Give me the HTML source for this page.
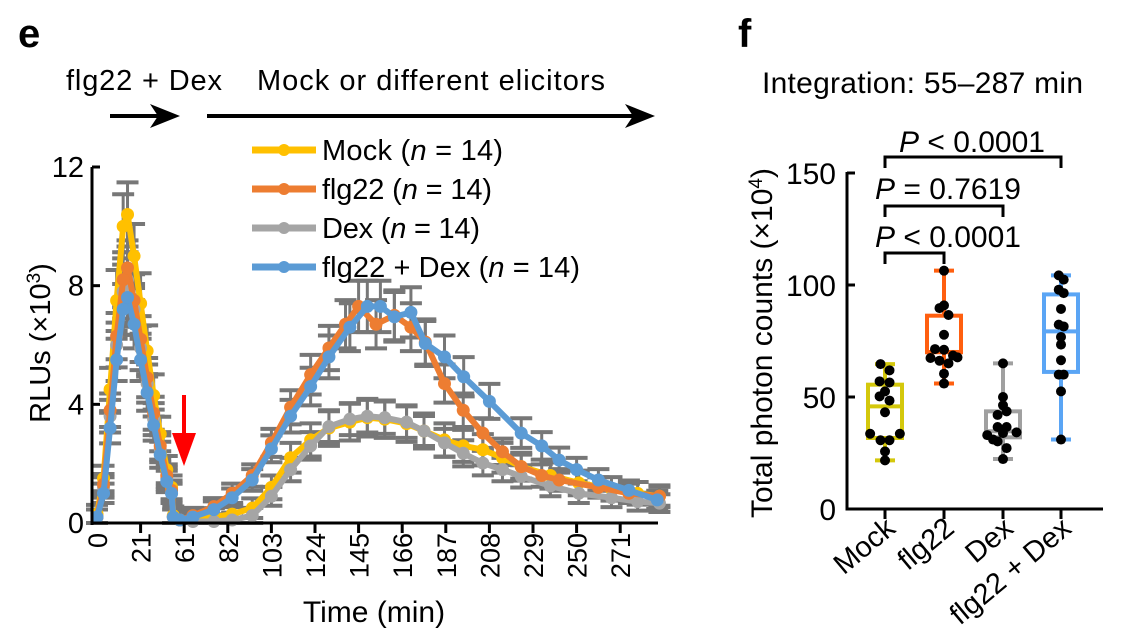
<!DOCTYPE html>
<html><head><meta charset="utf-8"><style>
body{margin:0;background:#fff;}
svg{display:block;font-family:"Liberation Sans",Arial,sans-serif;}
</style></head><body>
<svg id="fig" width="1124" height="641" viewBox="0 0 1124 641">
<text x="18" y="47" font-size="40" font-weight="bold">e</text>
<text x="738" y="47" font-size="40" font-weight="bold">f</text>
<text x="66" y="90" font-size="29" textLength="156">flg22 + Dex</text>
<text x="257" y="90" font-size="29" textLength="348">Mock or different elicitors</text>
<g><line x1="110" y1="116" x2="168" y2="116" stroke="#000" stroke-width="4"/><polygon points="180,116 150,104 158,116 150,128" fill="#000"/></g>
<g><line x1="207" y1="116" x2="640" y2="116" stroke="#000" stroke-width="4"/><polygon points="655,116 625,104 633,116 625,128" fill="#000"/></g>
<g id="left"></g>
<g id="right"></g>
<text x="762" y="93" font-size="30" textLength="321">Integration: 55–287 min</text>
</svg>
<script>
// ---------- Panel e data (x in tick units; values ×10^3 RLU) ----------
const xTickLabels = ["0","21","61","82","103","124","145","166","187","208","229","250","271"];
const yTickLabels = [0,4,8,12];
const seriesNames = ["Mock","flg22","Dex","flg22 + Dex"];
const seriesColors = ["#ffc000","#ed7d31","#a5a5a5","#5b9bd5"];
const tMock  = [0,0.15,0.3,0.45,0.6,0.7,0.85,1.0,1.15,1.3,1.45,1.6,1.71,1.75,1.9,2.2,2.68,3.1,3.56,4.0,4.44,4.9,5.32,5.8,6.2,6.6,7.1,7.5,7.97,8.4,8.85,9.3,9.73,10.4,11.05,11.8,12.4,12.9];
const vMock  = [0.3,1.5,4.5,7.5,10.0,10.4,9.0,7.4,5.8,4.3,3.0,1.8,1.2,0.25,0.1,0.15,0.2,0.3,0.5,1.2,2.2,2.8,3.2,3.4,3.55,3.5,3.35,3.1,2.8,2.6,2.47,2.2,1.9,1.6,1.35,1.15,1.0,0.9];
const tFlg   = [0,0.15,0.3,0.45,0.6,0.7,0.85,1.0,1.15,1.3,1.45,1.6,1.71,1.75,1.9,2.2,2.68,3.1,3.56,4.0,4.44,4.9,5.32,5.7,6.0,6.4,6.82,7.2,7.53,7.97,8.4,8.85,9.3,9.73,10.2,10.6,11.5,12.2,12.9];
const vFlg   = [0.2,1.3,3.8,6.3,8.2,8.6,7.5,6.2,4.9,3.7,2.6,1.6,1.1,0.2,0.1,0.25,0.55,1.0,1.6,2.7,3.9,5.0,5.9,6.7,7.3,6.7,7.0,6.6,6.1,4.7,3.8,3.03,2.4,1.9,1.6,1.45,1.2,1.0,0.9];
const tDex   = [0,0.15,0.3,0.45,0.6,0.7,0.85,1.0,1.15,1.3,1.45,1.6,1.71,1.75,1.9,2.2,2.68,3.1,3.56,4.0,4.44,4.9,5.32,5.8,6.2,6.6,7.1,7.5,7.97,8.4,8.85,9.3,9.73,10.4,11.05,11.8,12.4,12.9];
const vDex   = [0.2,1.2,3.6,6.0,7.8,8.2,7.2,5.9,4.7,3.5,2.5,1.5,1.0,0.2,0.1,0.05,0.05,0.1,0.25,0.9,1.8,2.6,3.25,3.5,3.6,3.55,3.4,3.1,2.7,2.35,2.02,1.8,1.57,1.25,1.0,0.85,0.72,0.67];
const tBlue  = [0,0.15,0.3,0.45,0.6,0.7,0.85,1.0,1.15,1.3,1.45,1.6,1.71,1.75,1.9,2.2,2.68,3.1,3.56,4.0,4.44,4.9,5.32,5.8,6.2,6.5,6.82,7.2,7.53,7.97,8.41,9.0,9.73,10.2,10.6,11.0,11.5,12.2,12.85];
const vBlue  = [0.2,1.0,3.2,5.5,7.2,7.6,6.7,5.5,4.4,3.3,2.3,1.4,1.0,0.2,0.1,0.2,0.45,0.85,1.45,2.5,3.6,4.6,5.6,6.6,7.3,7.3,6.95,7.1,6.05,5.6,4.93,4.1,3.03,2.6,2.12,1.8,1.45,1.1,0.78];
const errMock = 0.7, errFlg = 0.6, errDex = 0.6, errBlue = 0.6;

// ---------- Panel f data (×10^4 photon counts) ----------
const boxCats = ["Mock","flg22","Dex","flg22 + Dex"];
const boxColors = ["#d4c80c","#ff5f0f","#a0a0a0","#5aa5f5"];
const boxWhiskLo = [21.7,56,22.3,31];
const boxQ1 = [31.7,70.1,32,61.2];
const boxMed = [45.8,70,34.7,79.3];
const boxQ3 = [55.5,86.3,43.6,95.8];
const boxWhiskHi = [64.7,106.4,65,104.3];
const dotsMock = [64.7,61.9,57,56.5,52.5,50.3,48.4,43.2,33.6,33.6,30.7,30.7,25.7,21.7];
const dotsFlg = [106.4,89.7,90.9,86.6,77.8,71.4,71.1,67.4,66.2,65,68.5,67.7,60.4,56];
const dotsDex = [65,50,46.3,42,43.6,36.6,36.6,33,31,33.9,34.2,30.2,27.2,22.3];
const dotsBlue = [104.3,102.4,97.9,96.4,89.3,82.3,81.5,76.8,73.4,66.4,60,60,52.5,31];
const jitterMock = [-0.1,0.1,-0.12,0.1,0,-0.12,0.1,0,-0.33,0.33,-0.1,0.1,0,0];
const jitterFlg = [0,-0.1,0,0.1,0,-0.2,0,-0.3,-0.1,0.1,0.2,0.3,0,0];
const jitterDex = [0,0,0,-0.12,0.08,-0.12,0.08,-0.35,-0.22,0,0.3,-0.12,0.08,0];
const jitterBlue = [-0.05,0.06,-0.05,0.06,0,-0.05,0.06,0,0,0,-0.05,0.06,0,0];
const yTicksF = [0,50,100,150];

const NS="http://www.w3.org/2000/svg";
function mk(parent,tag,attrs,txt){const e=document.createElementNS(NS,tag);for(const k in attrs)e.setAttribute(k,attrs[k]);if(txt!==undefined)e.textContent=txt;parent.appendChild(e);return e;}

// ===== Panel e =====
const L=document.getElementById('left');
const x0=97, dx=43.6, yb=523, yTop=167;
const xs=t=>x0+t*dx;
const ys=v=>yb-(v/12)*(yb-yTop);
const allT=[tMock,tFlg,tDex,tBlue], allV=[vMock,vFlg,vDex,vBlue], errs=[errMock,errFlg,errDex,errBlue];
const eg=mk(L,'g',{});


for(let s=0;s<4;s++){
  for(let i=0;i<allT[s].length;i++){
    const e=errs[s]*(0.4+Math.min(allV[s][i],8)/7);
    const x=xs(allT[s][i]), yh=ys(allV[s][i]+e), yl=ys(Math.max(0,allV[s][i]-e));
    mk(eg,'line',{x1:x,x2:x,y1:yh,y2:yl,stroke:'#777','stroke-width':3});
    mk(eg,'line',{x1:x-11,x2:x+11,y1:yh,y2:yh,stroke:'#777','stroke-width':4});
    mk(eg,'line',{x1:x-11,x2:x+11,y1:yl,y2:yl,stroke:'#777','stroke-width':4});
  }
}
const order=[0,2,1,3];
for(const s of order){
  const g=mk(L,'g',{});
  
  
  const pts=allT[s].map((t,i)=>xs(t)+','+ys(allV[s][i])).join(' ');
  mk(g,'polyline',{points:pts,fill:'none',stroke:seriesColors[s],'stroke-width':6,'stroke-linejoin':'round'});
  allT[s].forEach((t,i)=>{const c=mk(g,'circle',{cx:xs(t),cy:ys(allV[s][i]),r:6.5,fill:seriesColors[s]});
    
    });
}
const ax=mk(L,'g',{});


mk(ax,'line',{x1:92,x2:92,y1:yTop,y2:yb+2,stroke:'#000','stroke-width':3});
mk(ax,'line',{x1:91,x2:658,y1:yb,y2:yb,stroke:'#000','stroke-width':3});
yTickLabels.forEach(v=>{mk(ax,'line',{x1:92,x2:100,y1:ys(v),y2:ys(v),stroke:'#000','stroke-width':3});
  const t=mk(ax,'text',{x:84,y:ys(v)+10,'font-size':29,'text-anchor':'end'},String(v));
  
  });
xTickLabels.forEach((lab,i)=>{const x=xs(i);
  if(i>0) mk(ax,'line',{x1:x,x2:x,y1:yb,y2:yb+10,stroke:'#000','stroke-width':3});
  const t=mk(ax,'text',{x:0,y:0,'font-size':27,'text-anchor':'end',transform:`translate(${x+10},${yb+10}) rotate(-90)`},lab);
  
  });
const xt=mk(ax,'text',{x:374,y:622,'font-size':30,'text-anchor':'middle'},'Time (min)');


const yt=mk(ax,'text',{x:0,y:0,'font-size':29,'text-anchor':'middle',transform:'translate(50,343) rotate(-90)'});


yt.innerHTML='RLUs (×10<tspan dy="-10" font-size="19">3</tspan><tspan dy="10">)</tspan>';
const ra=mk(L,'g',{});


mk(ra,'line',{x1:184,x2:184,y1:395,y2:440,stroke:'#f00','stroke-width':4});
mk(ra,'polygon',{points:'172,433 196,433 184,466',fill:'#f00'});
const lg=mk(L,'g',{});


const legW=[181,170,158,258];
[150,189,228,267].forEach((y,s)=>{
  const e=mk(lg,'g',{});
  
  
  mk(e,'line',{x1:252,x2:316,y1:y,y2:y,stroke:seriesColors[s],'stroke-width':7});
  mk(e,'circle',{cx:284,cy:y,r:6,fill:seriesColors[s]});
  const t=mk(e,'text',{x:322,y:y+10,'font-size':29,textLength:legW[s]});
  t.innerHTML=seriesNames[s]+' (<tspan font-style="italic">n</tspan> = 14)';
});

// ===== Panel f =====
const R=document.getElementById('right');
const fx=[885,944,1003,1061], fy0=509, fyTop=173;
const fys=v=>fy0-(v/150)*(fy0-fyTop);
const allDots=[dotsMock,dotsFlg,dotsDex,dotsBlue], allJit=[jitterMock,jitterFlg,jitterDex,jitterBlue];
const bw=34;
boxCats.forEach((c,i)=>{
  const g=mk(R,'g',{});
  
  
  const col=boxColors[i], x=fx[i];
  mk(g,'line',{x1:x,x2:x,y1:fys(boxWhiskHi[i]),y2:fys(boxQ3[i]),stroke:col,'stroke-width':4});
  mk(g,'line',{x1:x,x2:x,y1:fys(boxQ1[i]),y2:fys(boxWhiskLo[i]),stroke:col,'stroke-width':4});
  mk(g,'line',{x1:x-10,x2:x+10,y1:fys(boxWhiskHi[i]),y2:fys(boxWhiskHi[i]),stroke:col,'stroke-width':4});
  mk(g,'line',{x1:x-10,x2:x+10,y1:fys(boxWhiskLo[i]),y2:fys(boxWhiskLo[i]),stroke:col,'stroke-width':4});
  mk(g,'rect',{x:x-bw/2,y:fys(boxQ3[i]),width:bw,height:fys(boxQ1[i])-fys(boxQ3[i]),fill:'none',stroke:col,'stroke-width':4});
  mk(g,'line',{x1:x-bw/2-2,x2:x+bw/2+2,y1:fys(boxMed[i]),y2:fys(boxMed[i]),stroke:col,'stroke-width':4});
  allDots[i].forEach((v,j)=>{const d=mk(g,'circle',{cx:x+allJit[i][j]*45,cy:fys(v),r:5,fill:'#000'});
    
    });
});
const fa=mk(R,'g',{});


mk(fa,'line',{x1:847,x2:847,y1:fyTop-1,y2:fy0+1.5,stroke:'#000','stroke-width':3});
mk(fa,'line',{x1:845.5,x2:1103,y1:fy0,y2:fy0,stroke:'#000','stroke-width':3});
yTicksF.forEach(v=>{mk(fa,'line',{x1:847,x2:855,y1:fys(v),y2:fys(v),stroke:'#000','stroke-width':3});
  const t=mk(fa,'text',{x:836,y:fys(v)+11,'font-size':30,'text-anchor':'end'},String(v));
  
  });
boxCats.forEach((c,i)=>{mk(fa,'line',{x1:fx[i],x2:fx[i],y1:fy0,y2:fy0+10,stroke:'#000','stroke-width':3});
  const t=mk(fa,'text',{x:0,y:0,'font-size':29,'text-anchor':'end',transform:`translate(${fx[i]+12},${fy0+22}) rotate(-40)`},c);
  
  });
const fyt=mk(fa,'text',{x:0,y:0,'font-size':30,'text-anchor':'middle',transform:'translate(772,343) rotate(-90)'});


fyt.innerHTML='Total photon counts (×10<tspan dy="-10" font-size="19">4</tspan><tspan dy="10">)</tspan>';
const brackets=[[0,3,157,145,'<','0.0001',972,152],[0,2,206,217,'=','0.7619',948,199],[0,1,253,264,'<','0.0001',948,247]];
brackets.forEach(b=>{
  const g=mk(R,'g',{});
  
  
  const xa=fx[b[0]], xb=fx[b[1]], dy=11;
  mk(g,'polyline',{points:`${xa},${b[2]+dy} ${xa},${b[2]} ${xb},${b[2]} ${xb},${b[2]+dy}`,fill:'none',stroke:'#000','stroke-width':3});
  const t=mk(g,'text',{x:b[6],y:b[7],'font-size':30,'text-anchor':'middle'});
  t.innerHTML='<tspan font-style="italic">P</tspan> '+b[4].replace('<','&lt;')+' '+b[5];
});
</script>
</body></html>
